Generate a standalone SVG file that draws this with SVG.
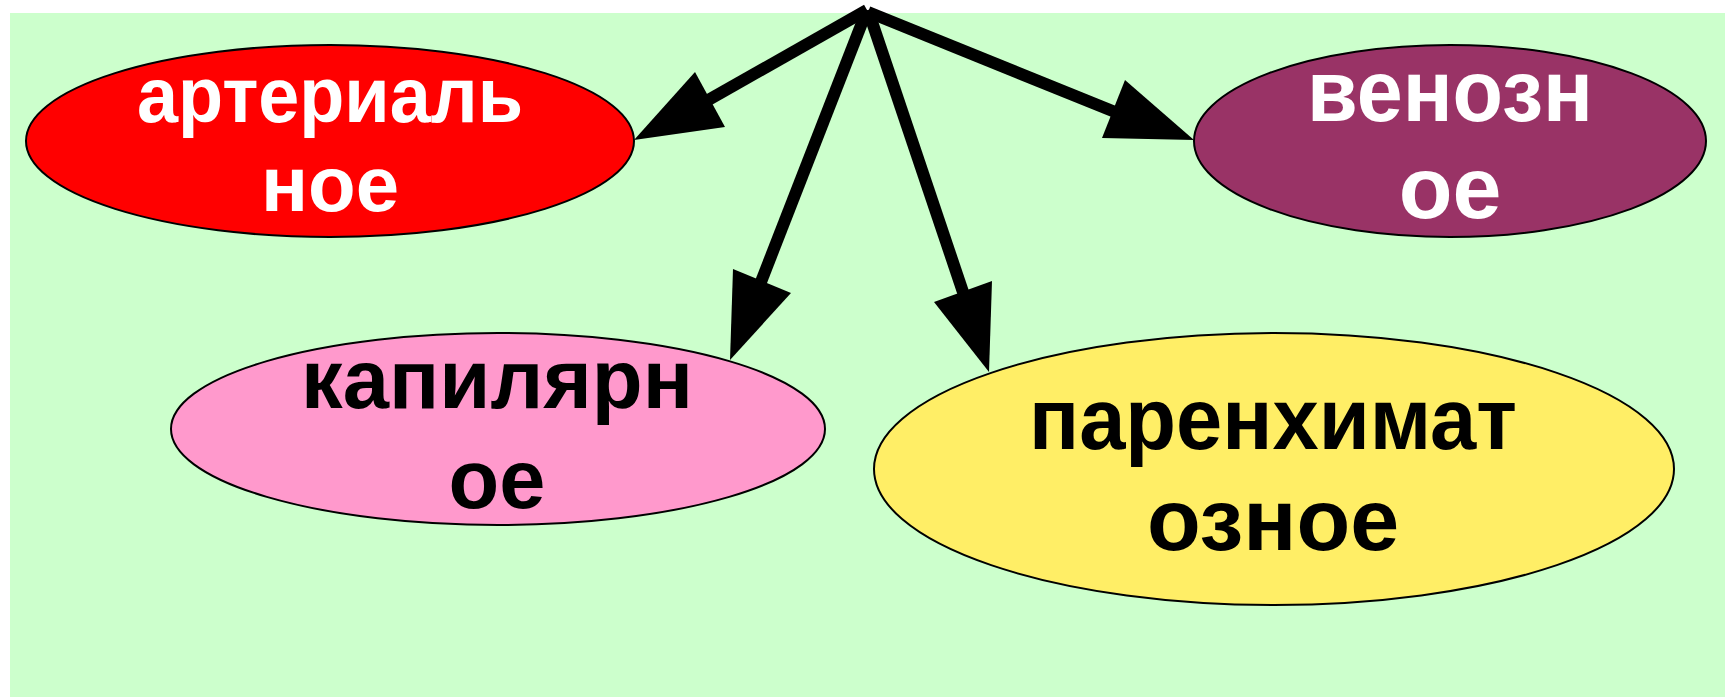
<svg xmlns="http://www.w3.org/2000/svg" width="1725" height="698" viewBox="0 0 1725 698">
<style>
.node{stroke:#000;stroke-width:2}
.lbl{font-family:"Liberation Sans",Arial,sans-serif;font-weight:bold;text-anchor:middle}
.edge{stroke:#000;stroke-width:12;fill:none}
.head{fill:#000;stroke:none}
</style>
<rect x="0" y="0" width="1725" height="698" fill="#fff"/>
<rect x="10" y="13" width="1715" height="684" fill="#CCFFCC"/>
<g id="connectors">
<line class="edge" x1="867" y1="10" x2="703" y2="103"/>
<polygon class="head" points="634,140 695,72 725,127"/>
<line class="edge" x1="867" y1="10" x2="759" y2="287"/>
<polygon class="head" points="730,360 733,269 791,293"/>
<line class="edge" x1="868" y1="10" x2="965" y2="298"/>
<polygon class="head" points="989,372 934,302 992,281"/>
<line class="edge" x1="868" y1="12" x2="1120" y2="114"/>
<polygon class="head" points="1194,140 1125,80 1102,138"/>
</g>
<g id="arterial">
<ellipse class="node" cx="330" cy="141" rx="304" ry="96" fill="#FF0000"/>
<text class="lbl" x="330" y="122" font-size="78" fill="#fff" textLength="386" lengthAdjust="spacingAndGlyphs">артериаль</text>
<text class="lbl" x="330" y="211" font-size="78" fill="#fff">ное</text>
</g>
<g id="venous">
<ellipse class="node" cx="1450" cy="141" rx="256" ry="96" fill="#993366"/>
<text class="lbl" x="1450" y="121" font-size="88" fill="#fff" textLength="286" lengthAdjust="spacingAndGlyphs">венозн</text>
<text class="lbl" x="1450" y="218" font-size="88" fill="#fff">ое</text>
</g>
<g id="capillary">
<ellipse class="node" cx="498" cy="429" rx="327" ry="96" fill="#FF99CC"/>
<text class="lbl" x="497" y="408" font-size="83" fill="#000" textLength="392" lengthAdjust="spacingAndGlyphs">капилярн</text>
<text class="lbl" x="497" y="508" font-size="83" fill="#000">ое</text>
</g>
<g id="parenchymal">
<ellipse class="node" cx="1274" cy="469" rx="400" ry="136" fill="#FFEE66"/>
<text class="lbl" x="1273" y="449" font-size="88" fill="#000" textLength="488" lengthAdjust="spacingAndGlyphs">паренхимат</text>
<text class="lbl" x="1273" y="550" font-size="88" fill="#000">озное</text>
</g>
</svg>
